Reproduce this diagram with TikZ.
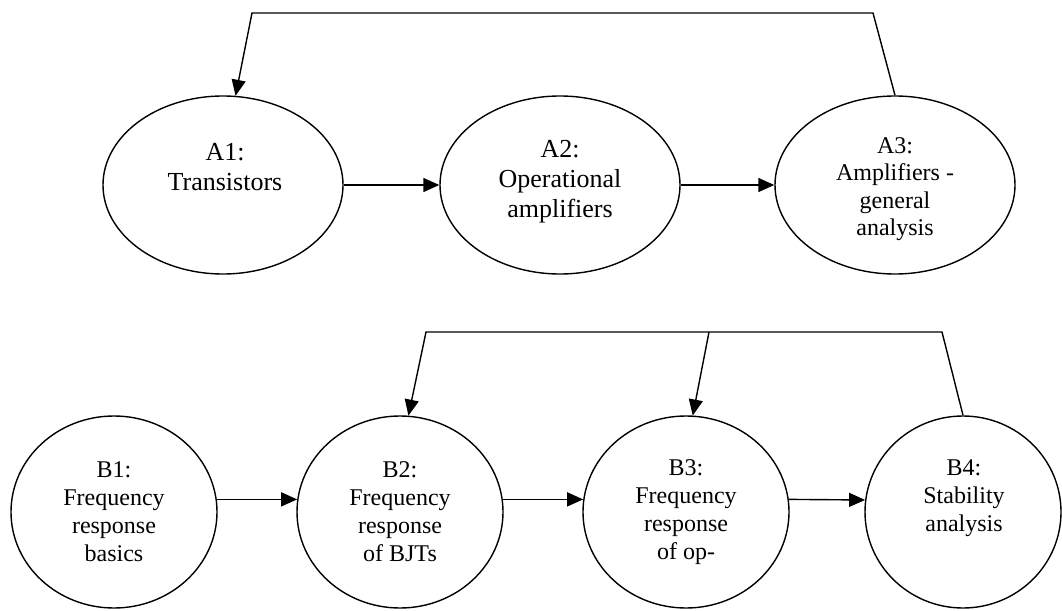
\documentclass[tikz,border=0pt]{standalone}
\usepackage{fontspec}
\setmainfont{Liberation Serif}
\usetikzlibrary{arrows.meta,shapes.geometric}

\begin{document}
\begin{tikzpicture}[x=1pt, y=-1pt, line width=1.4pt, >={Triangle[length=16pt,width=14pt]},
	    every node/.style={inner sep=0pt},
	    topicA/.style={draw, ellipse, minimum width=240pt, minimum height=178pt},
	    topicB/.style={draw, ellipse, minimum width=206pt, minimum height=192pt},
	    labelA/.style={align=center, font=\rmfamily\fontsize{26}{30}\selectfont},
	    labelB/.style={align=center, font=\rmfamily\fontsize{24}{28}\selectfont}]
	    \useasboundingbox (0,0) rectangle (1062,610);
	    \node[topicA] (A1) at (223,185) {};
	    \node[topicA] (A2) at (560,185) {};
	    \node[topicA] (A3) at (895,185) {};
	    \node[topicB] (B1) at (114,512) {};
	    \node[topicB] (B2) at (400,512) {};
	    \node[topicB] (B3) at (686,512) {};
	    \node[topicB, minimum width=196pt] (B4) at (963,512) {};
	    \node[labelA] (A1text) at (225,167) {A1:\\Transistors};
	    \node[labelA] (A2text) at (560,182) {A2:\\Operational\\amplifiers};
	    \node[labelA, font=\rmfamily\fontsize{24}{27.5}\selectfont] (A3text) at (895,189)
	      {A3:\\Amplifiers -\\general\\analysis};
	    \node[labelB] (B1text) at (114,512) {B1:\\Frequency\\response\\basics};
	    \node[labelB] (B2text) at (400,512) {B2:\\Frequency\\response\\of BJTs};
	    \node[labelB] (B3text) at (686,512) {B3:\\Frequency\\response\\of op-};
	    \node[labelB] (B4text) at (964,498) {B4:\\Stability\\analysis};
	    \coordinate (topA1) at (252,13);
	    \coordinate (topA3) at (873,13);
	    \coordinate (topB2) at (426,332);
	    \coordinate (topB3) at (709,332);
	    \coordinate (topB4) at (942,332);
	    \draw[->] (A1.east) -- (A2.west);
	    \draw[->] (A2.east) -- (A3.west);
	    \draw[->] (B1.7) -- (B2.173);
	    \draw[->] (B2.7) -- (B3.173);
	    \draw[->] (B3.7) -- (B4.173);
	    \draw[->] (A3.north) -- (topA3) -- (topA1) -- (A1.82);
	    \draw[->] (B4.north) -- (topB4) -- (topB2) -- (B2.85);
	    \draw[->] (topB3) -- (B3.86);
	  \end{tikzpicture}
\end{document}
